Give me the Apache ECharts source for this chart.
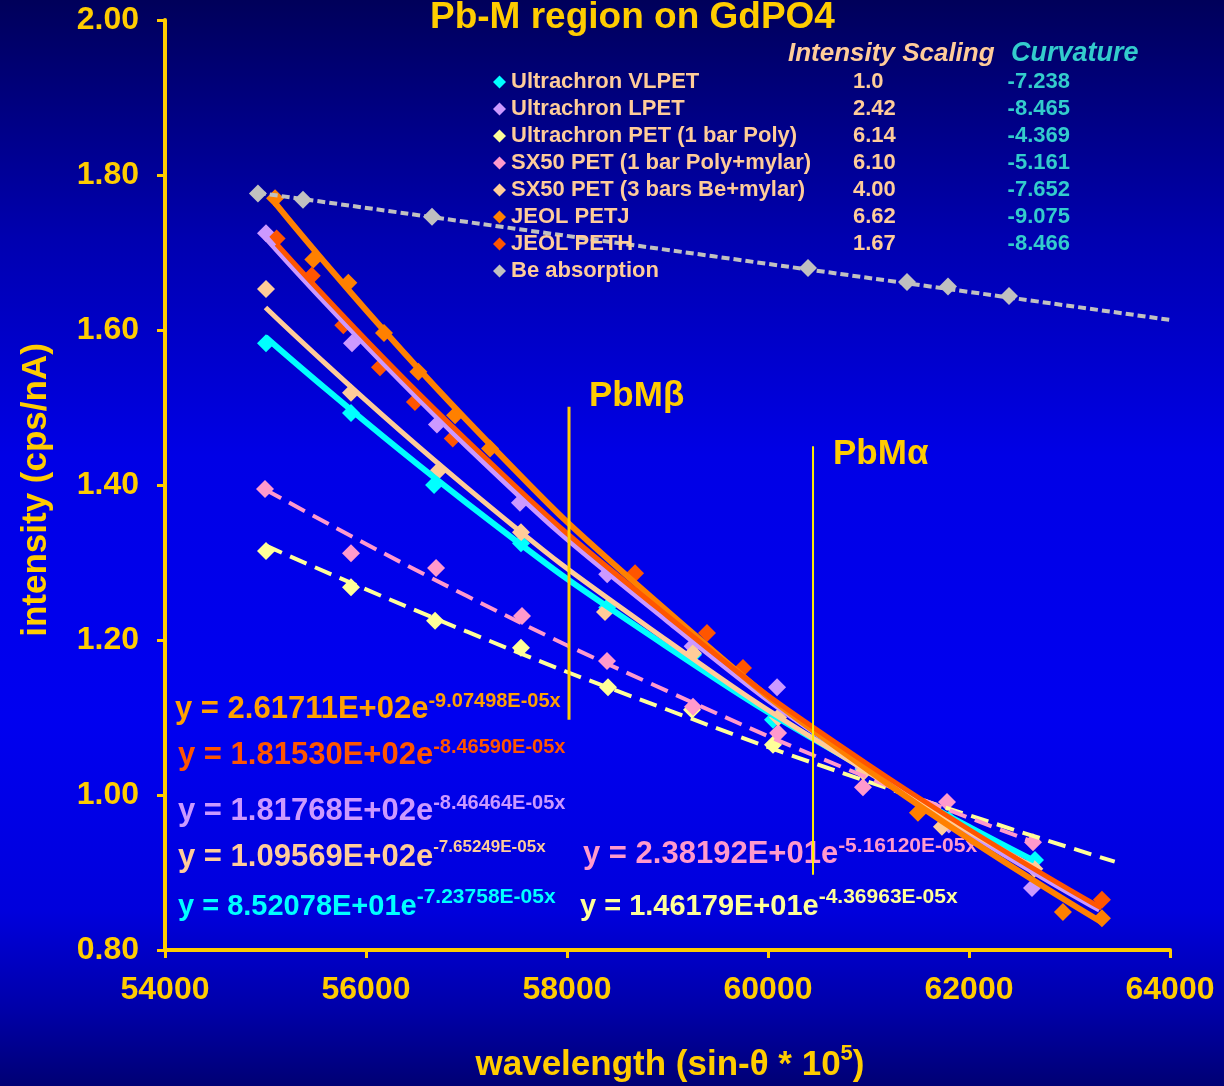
<!DOCTYPE html>
<html><head><meta charset="utf-8">
<script src="https://cdn.jsdelivr.net/npm/echarts@6/dist/echarts.min.js"></script>
<style>html,body{margin:0;padding:0;background:#000070;}#c{width:1224px;height:1086px;}</style>
</head><body><div id="c"></div>
<script>
// ---------- data ----------
const seriesNames = ['Ultrachron VLPET','Ultrachron LPET','Ultrachron PET (1 bar Poly)','SX50 PET (1 bar Poly+mylar)','SX50 PET (3 bars Be+mylar)','JEOL PETJ','JEOL PETH','Be absorption'];
const intensityScaling = ['1.0','2.42','6.14','6.10','4.00','6.62','1.67',''];
const curvature = ['-7.238','-8.465','-4.369','-5.161','-7.652','-9.075','-8.466',''];

const vlpetX = [55005, 55851, 56677, 57542, 58400, 59254, 60050, 60950, 61800, 62657];
const vlpetY = [1.583, 1.493, 1.400, 1.325, 1.242, 1.181, 1.097, 1.033, 0.968, 0.916];
const lpetX  = [55005, 55861, 56706, 57532, 58400, 59250, 60090, 60950, 61800, 62627];
const lpetY  = [1.725, 1.583, 1.478, 1.377, 1.285, 1.192, 1.139, 1.035, 0.962, 0.880];
const petX   = [55005, 55851, 56687, 57542, 58408, 59244, 60050];
const petY   = [1.315, 1.268, 1.225, 1.190, 1.139, 1.110, 1.065];
const sx1X   = [54995, 55851, 56697, 57552, 58398, 59254, 60100, 60945, 61781, 62637];
const sx1Y   = [1.395, 1.312, 1.293, 1.231, 1.173, 1.114, 1.080, 1.010, 0.991, 0.939];
const sx3X   = [55005, 55851, 56726, 57542, 58378, 59254, 60100, 60950, 61731, 62650];
const sx3Y   = [1.653, 1.519, 1.419, 1.339, 1.236, 1.183, 1.100, 1.030, 0.959, 0.905];
const petjX  = [55095, 55476, 55824, 56179, 56521, 56886, 57234, 61492, 62935, 63323];
const petjY  = [1.770, 1.691, 1.661, 1.596, 1.546, 1.490, 1.447, 0.977, 0.849, 0.841];
const pethX  = [55111, 55460, 55774, 56139, 56487, 56863, 58677, 59393, 59751, 63323];
const pethY  = [1.718, 1.670, 1.606, 1.552, 1.507, 1.460, 1.286, 1.209, 1.164, 0.865];
const beX    = [54925, 55373, 56657, 60398, 61383, 61791, 62398];
const beY    = [1.776, 1.768, 1.746, 1.680, 1.662, 1.656, 1.644];

// trend lines at a few wavelengths
const vlpetTrendX = [55000, 57000, 59000, 61000, 62650];
const vlpetTrendY = [1.591, 1.377, 1.191, 1.031, 0.915];
const lpetTrendX  = [55000, 57000, 59000, 61000, 63300];
const lpetTrendY  = [1.720, 1.451, 1.225, 1.034, 0.852];
const petTrendX   = [55000, 57000, 59000, 61000, 63450];
const petTrendY   = [1.322, 1.211, 1.110, 1.017, 0.914];
const sx1TrendX   = [55000, 57000, 59000, 61000, 62650];
const sx1TrendY   = [1.394, 1.257, 1.134, 1.022, 0.939];
const sx3TrendX   = [55000, 57000, 59000, 61000, 62650];
const sx3TrendY   = [1.629, 1.397, 1.199, 1.029, 0.907];
const petjTrendX  = [55095, 57000, 59000, 61000, 63320];
const petjTrendY  = [1.764, 1.484, 1.237, 1.032, 0.836];
const pethTrendX  = [55110, 57000, 59000, 61000, 63320];
const pethTrendY  = [1.711, 1.458, 1.231, 1.039, 0.854];
const beTrendX    = [54925, 64000];
const beTrendY    = [1.777, 1.613];

// emission lines (wavelength, bottom, top)
const lineNames = ['PbM\u03b2', 'PbM\u03b1'];
const lineX = [58020, 60448];
const lineBottom = [1.097, 0.897];
const lineTop = [1.501, 1.450];

// axis ranges
const xRange = [54000, 64000, 2000];
const yRange = [0.8, 2.0, 0.2];

// trendline equations
const eqMain = ['y = 2.61711E+02e','y = 1.81530E+02e','y = 1.81768E+02e','y = 1.09569E+02e','y = 2.38192E+01e','y = 8.52078E+01e','y = 1.46179E+01e'];
const eqExp  = ['-9.07498E-05x','-8.46590E-05x','-8.46464E-05x','-7.65249E-05x','-5.16120E-05x','-7.23758E-05x','-4.36963E-05x'];

// ---------- styling ----------
const FONT = '"Liberation Sans", Arial, Helvetica, sans-serif';
const GOLD = '#ffcc00';
const colors = ['#00ffff','#cc99ff','#ffff99','#ff99cc','#ffcc99','#ff8000','#ff5500','#c0c0c0'];
const eqColors = ['#ffa000','#ff5500','#cc99ff','#ffcc99','#ff99cc','#00ffff','#ffff99'];
const eqPos = [[175,708,31,20],[178,754,31,20],[178,810,31,20],[178,856,31,17],[583,853,31,21],[178,904,29,21],[580,904,29,21]];

const pts = (xs, ys) => xs.map((x, i) => [x, ys[i]]);
const groups = [
  [vlpetX, vlpetY, vlpetTrendX, vlpetTrendY, 'solid', 6],
  [lpetX, lpetY, lpetTrendX, lpetTrendY, 'solid', 6],
  [petX, petY, petTrendX, petTrendY, [18, 9], 4],
  [sx1X, sx1Y, sx1TrendX, sx1TrendY, [18, 9], 4],
  [sx3X, sx3Y, sx3TrendX, sx3TrendY, 'solid', 5],
  [petjX, petjY, petjTrendX, petjTrendY, 'solid', 6],
  [pethX, pethY, pethTrendX, pethTrendY, 'solid', 5],
  [beX, beY, beTrendX, beTrendY, [8, 4], 4]
];

const series = [];
groups.forEach((g, i) => {
  series.push({
    name: seriesNames[i], type: 'scatter', symbol: 'diamond', symbolSize: 18,
    itemStyle: { color: colors[i], opacity: 1 }, data: pts(g[0], g[1]), z: 2, silent: true
  });
});
groups.forEach((g, i) => {
  series.push({
    name: seriesNames[i] + ' trend', type: 'line', smooth: true, showSymbol: false, symbol: 'none',
    lineStyle: { color: colors[i], width: g[5], type: g[4], cap: 'butt', opacity: 1 },
    data: pts(g[2], g[3]), z: 3, silent: true
  });
});
lineNames.forEach((n, i) => {
  series.push({
    name: n, type: 'line', symbol: 'none', silent: true, z: 4,
    lineStyle: { color: i === 0 ? GOLD : '#ffee00', width: i === 0 ? 3 : 2 },
    data: [[lineX[i], lineBottom[i]], [lineX[i], lineTop[i]]]
  });
});

const graphics = [];
graphics.push({ type: 'text', x: 36, y: 490, rotation: Math.PI / 2,
  style: { text: 'intensity (cps/nA)', fill: GOLD, fontSize: 35, fontWeight: 'bold', fontFamily: FONT, align: 'center', verticalAlign: 'middle' } });
graphics.push({ type: 'text', x: 670, y: 1063,
  style: { text: '{m|wavelength (sin-\u03b8 * 10}{s|5}{m|)}', align: 'center', verticalAlign: 'middle',
    rich: { m: { fontSize: 35, fontWeight: 'bold', fontFamily: FONT, fill: GOLD, lineHeight: 40, verticalAlign: 'bottom' },
            s: { fontSize: 22, fontWeight: 'bold', fontFamily: FONT, fill: GOLD, lineHeight: 24, verticalAlign: 'top' } } } });
graphics.push({ type: 'text', x: 788, y: 54,
  style: { text: 'Intensity Scaling', fill: '#ffcc99', fontSize: 26, fontWeight: 'bold', fontStyle: 'italic', fontFamily: FONT, verticalAlign: 'middle' } });
graphics.push({ type: 'text', x: 1011, y: 54,
  style: { text: 'Curvature', fill: '#33cccc', fontSize: 27, fontWeight: 'bold', fontStyle: 'italic', fontFamily: FONT, verticalAlign: 'middle' } });
const lineLabelPos = [[589, 396], [833, 454]];
lineNames.forEach((n, i) => {
  graphics.push({ type: 'text', x: lineLabelPos[i][0], y: lineLabelPos[i][1],
    style: { text: n, fill: GOLD, fontSize: 35, fontWeight: 'bold', fontFamily: FONT, verticalAlign: 'middle' } });
});
eqMain.forEach((t, i) => {
  const p = eqPos[i];
  graphics.push({ type: 'text', x: p[0], y: p[1],
    style: { text: '{m|' + t + '}{s|' + eqExp[i] + '}', verticalAlign: 'middle',
      rich: { m: { fontSize: p[2], fontWeight: 'bold', fontFamily: FONT, fill: eqColors[i], lineHeight: 34, verticalAlign: 'bottom' },
              s: { fontSize: p[3], fontWeight: 'bold', fontFamily: FONT, fill: eqColors[i], lineHeight: 20, verticalAlign: 'top' } } } });
});

const chart = echarts.init(document.getElementById('c'), null, { renderer: 'canvas' });
chart.setOption({
  animation: false,
  backgroundColor: new echarts.graphic.LinearGradient(0, 0, 0, 1, [
    { offset: 0, color: '#00005a' },
    { offset: 0.22, color: '#0000b0' },
    { offset: 0.42, color: '#0000e6' },
    { offset: 0.66, color: '#0000f0' },
    { offset: 0.84, color: '#0000dc' },
    { offset: 0.93, color: '#0000a8' },
    { offset: 1, color: '#000074' }
  ]),
  title: { text: 'Pb-M region on GdPO4', left: 430, top: -1, padding: 0,
    textStyle: { color: GOLD, fontSize: 37, fontWeight: 'bold', fontFamily: FONT } },
  legend: {
    data: seriesNames.slice(), left: 493, top: 71, padding: 0, orient: 'vertical',
    icon: 'diamond', itemWidth: 13, itemHeight: 13, itemGap: 5, selectedMode: false,
    formatter: function (name) {
      const i = seriesNames.indexOf(name);
      let s = '{n|' + name + '}';
      if (intensityScaling[i]) s += '{s|' + intensityScaling[i] + '}{c|' + curvature[i] + '}';
      return s;
    },
    textStyle: { fontFamily: FONT, fontWeight: 'bold', color: '#ffcc99',
      rich: {
        n: { width: 342, fontSize: 22, fontWeight: 'bold', fontFamily: FONT, color: '#ffcc99', lineHeight: 24 },
        s: { width: 150, fontSize: 22, fontWeight: 'bold', fontFamily: FONT, color: '#ffcc99', lineHeight: 24 },
        c: { width: 67, align: 'right', fontSize: 22, fontWeight: 'bold', fontFamily: FONT, color: '#33cccc', lineHeight: 24 }
      } }
  },
  grid: { left: 165, right: 54, top: 20, bottom: 136, containLabel: false },
  xAxis: {
    type: 'value', min: xRange[0], max: xRange[1], interval: xRange[2],
    axisLine: { show: true, onZero: false, lineStyle: { color: GOLD, width: 4 } },
    axisTick: { show: true, length: 8, lineStyle: { color: GOLD, width: 3 } },
    axisLabel: { color: GOLD, fontSize: 32, fontWeight: 'bold', fontFamily: FONT, margin: 24,
      formatter: v => String(v) },
    splitLine: { show: false }
  },
  yAxis: {
    type: 'value', min: yRange[0], max: yRange[1], interval: yRange[2],
    axisLine: { show: true, onZero: false, lineStyle: { color: GOLD, width: 4 } },
    axisTick: { show: true, length: 8, lineStyle: { color: GOLD, width: 3 } },
    axisLabel: { color: GOLD, fontSize: 32, fontWeight: 'bold', fontFamily: FONT, margin: 26,
      formatter: v => v.toFixed(2) },
    splitLine: { show: false }
  },
  graphic: graphics,
  series: series
});
</script></body></html>
